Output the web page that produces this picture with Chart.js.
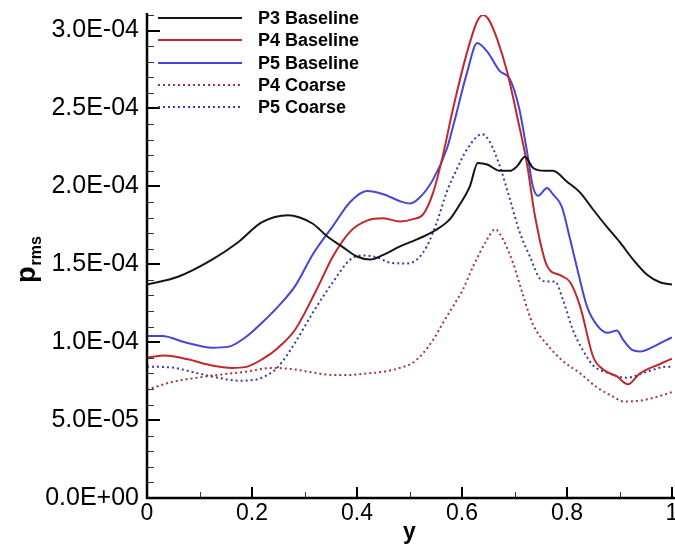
<!DOCTYPE html>
<html>
<head>
<meta charset="utf-8">
<script src="https://cdn.jsdelivr.net/npm/chart.js@4.4.1/dist/chart.umd.min.js"></script>
<style>
  html, body { margin: 0; padding: 0; background: #fff; }
  canvas { display: block; }
</style>
</head>
<body>
<canvas id="chart" width="675" height="546"></canvas>
<script>
// Wall-normal position y and RMS pressure p_rms for each run
const p3BaselineY = [0, 0.059, 0.124, 0.173, 0.219, 0.269, 0.291, 0.316, 0.343, 0.373, 0.400, 0.425, 0.450, 0.482, 0.514, 0.545, 0.577, 0.596, 0.615, 0.630, 0.648, 0.672, 0.691, 0.705, 0.720, 0.735, 0.758, 0.773, 0.800, 0.825, 0.850, 0.876, 0.901, 0.926, 0.952, 0.977, 1.0];
const p3BaselineP = [1.37e-4, 1.42e-4, 1.53e-4, 1.64e-4, 1.77e-4, 1.815e-4, 1.80e-4, 1.76e-4, 1.68e-4, 1.61e-4, 1.55e-4, 1.53e-4, 1.56e-4, 1.615e-4, 1.66e-4, 1.71e-4, 1.79e-4, 1.885e-4, 2.00e-4, 2.15e-4, 2.14e-4, 2.10e-4, 2.10e-4, 2.13e-4, 2.19e-4, 2.12e-4, 2.10e-4, 2.10e-4, 2.03e-4, 1.96e-4, 1.85e-4, 1.74e-4, 1.64e-4, 1.53e-4, 1.435e-4, 1.385e-4, 1.37e-4];

const p4BaselineY = [0, 0.034, 0.078, 0.124, 0.162, 0.187, 0.219, 0.250, 0.282, 0.322, 0.354, 0.387, 0.419, 0.450, 0.482, 0.507, 0.526, 0.545, 0.562, 0.583, 0.610, 0.629, 0.640, 0.650, 0.667, 0.686, 0.705, 0.724, 0.739, 0.762, 0.787, 0.806, 0.825, 0.850, 0.869, 0.895, 0.916, 0.939, 0.977, 1.0];
const p4BaselineP = [0.90e-4, 0.915e-4, 0.89e-4, 0.85e-4, 0.835e-4, 0.84e-4, 0.89e-4, 0.965e-4, 1.08e-4, 1.33e-4, 1.55e-4, 1.71e-4, 1.78e-4, 1.795e-4, 1.775e-4, 1.79e-4, 1.82e-4, 1.96e-4, 2.175e-4, 2.50e-4, 2.865e-4, 3.06e-4, 3.10e-4, 3.075e-4, 2.945e-4, 2.735e-4, 2.45e-4, 2.14e-4, 1.81e-4, 1.49e-4, 1.43e-4, 1.385e-4, 1.23e-4, 0.905e-4, 0.825e-4, 0.78e-4, 0.73e-4, 0.80e-4, 0.86e-4, 0.895e-4];

const p5BaselineY = [0, 0.029, 0.072, 0.124, 0.154, 0.187, 0.219, 0.250, 0.282, 0.316, 0.354, 0.387, 0.419, 0.450, 0.482, 0.501, 0.520, 0.545, 0.571, 0.583, 0.610, 0.629, 0.648, 0.672, 0.691, 0.709, 0.724, 0.735, 0.745, 0.762, 0.773, 0.790, 0.806, 0.821, 0.838, 0.857, 0.878, 0.895, 0.907, 0.924, 0.939, 0.964, 0.990, 1.0];
const p5BaselineP = [1.04e-4, 1.04e-4, 1.00e-4, 0.965e-4, 0.97e-4, 1.03e-4, 1.125e-4, 1.23e-4, 1.36e-4, 1.565e-4, 1.745e-4, 1.90e-4, 1.97e-4, 1.95e-4, 1.905e-4, 1.89e-4, 1.93e-4, 2.045e-4, 2.24e-4, 2.385e-4, 2.735e-4, 2.92e-4, 2.865e-4, 2.74e-4, 2.69e-4, 2.50e-4, 2.22e-4, 2.00e-4, 1.94e-4, 1.99e-4, 1.95e-4, 1.87e-4, 1.66e-4, 1.45e-4, 1.23e-4, 1.11e-4, 1.06e-4, 1.075e-4, 1.015e-4, 0.95e-4, 0.94e-4, 0.97e-4, 1.015e-4, 1.03e-4];

const p4CoarseY = [0, 0.048, 0.091, 0.135, 0.187, 0.238, 0.282, 0.316, 0.354, 0.387, 0.419, 0.450, 0.482, 0.507, 0.526, 0.545, 0.564, 0.583, 0.602, 0.621, 0.648, 0.663, 0.678, 0.697, 0.716, 0.735, 0.762, 0.792, 0.825, 0.857, 0.888, 0.907, 0.939, 0.977, 1.0];
const p4CoarseP = [0.695e-4, 0.745e-4, 0.77e-4, 0.79e-4, 0.81e-4, 0.835e-4, 0.825e-4, 0.805e-4, 0.79e-4, 0.79e-4, 0.80e-4, 0.81e-4, 0.835e-4, 0.87e-4, 0.93e-4, 1.015e-4, 1.125e-4, 1.23e-4, 1.34e-4, 1.485e-4, 1.66e-4, 1.725e-4, 1.66e-4, 1.51e-4, 1.305e-4, 1.115e-4, 0.985e-4, 0.88e-4, 0.80e-4, 0.71e-4, 0.65e-4, 0.62e-4, 0.625e-4, 0.655e-4, 0.68e-4];

const p5CoarseY = [0, 0.048, 0.091, 0.135, 0.173, 0.206, 0.230, 0.250, 0.282, 0.316, 0.354, 0.387, 0.411, 0.438, 0.463, 0.495, 0.514, 0.533, 0.552, 0.571, 0.590, 0.610, 0.638, 0.653, 0.672, 0.691, 0.710, 0.730, 0.749, 0.762, 0.777, 0.792, 0.811, 0.830, 0.850, 0.876, 0.914, 0.952, 0.990, 1.0];
const p5CoarseP = [0.843e-4, 0.837e-4, 0.805e-4, 0.772e-4, 0.753e-4, 0.759e-4, 0.79e-4, 0.843e-4, 0.997e-4, 1.19e-4, 1.385e-4, 1.53e-4, 1.557e-4, 1.545e-4, 1.51e-4, 1.505e-4, 1.53e-4, 1.615e-4, 1.77e-4, 1.965e-4, 2.11e-4, 2.24e-4, 2.335e-4, 2.285e-4, 2.13e-4, 1.92e-4, 1.705e-4, 1.545e-4, 1.405e-4, 1.39e-4, 1.39e-4, 1.275e-4, 1.08e-4, 0.95e-4, 0.85e-4, 0.805e-4, 0.772e-4, 0.81e-4, 0.843e-4, 0.843e-4];

const seriesLabels = ['P3 Baseline', 'P4 Baseline', 'P5 Baseline', 'P4 Coarse', 'P5 Coarse'];

const xTickValues = [0, 0.2, 0.4, 0.6, 0.8, 1];
const xTickLabels = ['0', '0.2', '0.4', '0.6', '0.8', '1'];
const yTickValues = [0, 5e-5, 1e-4, 1.5e-4, 2e-4, 2.5e-4, 3e-4];
const yTickLabels = ['0.0E+00', '5.0E-05', '1.0E-04', '1.5E-04', '2.0E-04', '2.5E-04', '3.0E-04'];

const FONT = '"Liberation Sans", Arial, Helvetica, sans-serif';

function pairs(xs, ys) {
  return xs.map((v, i) => ({ x: v, y: ys[i] }));
}

// Tick marks pointing into the plot, plus the left and bottom axis lines
const inwardTicks = {
  id: 'inwardTicks',
  afterDatasetsDraw(chart) {
    const { ctx, chartArea: a, scales: { x, y } } = chart;
    ctx.save();
    ctx.lineCap = 'butt';

    ctx.strokeStyle = '#333';
    ctx.lineWidth = 1;
    ctx.beginPath();
    for (let k = 1; k < 10; k += 2) {
      const px = Math.round(x.getPixelForValue(k / 10)) + 0.5;
      ctx.moveTo(px, a.bottom);
      ctx.lineTo(px, a.bottom - 6);
    }
    for (let k = 1; k <= 31; k++) {
      if (k % 5 === 0) continue;
      const py = Math.round(y.getPixelForValue(k * 1e-5)) + 0.5;
      ctx.moveTo(a.left, py);
      ctx.lineTo(a.left + 7, py);
    }
    ctx.stroke();

    ctx.strokeStyle = '#000';
    ctx.lineWidth = 2;
    ctx.beginPath();
    xTickValues.forEach(v => {
      const px = Math.round(x.getPixelForValue(v));
      ctx.moveTo(px, a.bottom);
      ctx.lineTo(px, a.bottom - 11);
    });
    yTickValues.forEach(v => {
      const py = Math.round(y.getPixelForValue(v));
      ctx.moveTo(a.left, py);
      ctx.lineTo(a.left + 13, py);
    });
    ctx.stroke();

    ctx.lineWidth = 2.5;
    ctx.beginPath();
    ctx.moveTo(a.left, a.top - 2);
    ctx.lineTo(a.left, a.bottom);
    ctx.lineTo(a.right + 4, a.bottom);
    ctx.stroke();
    ctx.restore();
  }
};

// Line-sample legend in the upper-left corner of the plot
const cornerLegend = {
  id: 'cornerLegend',
  afterDraw(chart) {
    const { ctx } = chart;
    const x0 = 158, x1 = 242, tx = 258, top = 18, step = 22.3;
    ctx.save();
    ctx.font = 'bold 18px ' + FONT;
    ctx.textBaseline = 'middle';
    ctx.fillStyle = '#000';
    chart.data.datasets.forEach((ds, i) => {
      const yy = Math.round(top + i * step);
      ctx.strokeStyle = ds.borderColor;
      ctx.lineWidth = ds.borderWidth;
      ctx.setLineDash(ds.borderDash || []);
      ctx.beginPath();
      ctx.moveTo(x0, yy);
      ctx.lineTo(x1, yy);
      ctx.stroke();
      ctx.setLineDash([]);
      ctx.fillText(ds.label, tx, yy + 1);
    });
    ctx.restore();
  }
};

// Rotated y-axis title with subscript: p_rms
const yTitle = {
  id: 'yTitle',
  afterDraw(chart) {
    const { ctx } = chart;
    ctx.save();
    ctx.translate(35, 283);
    ctx.rotate(-Math.PI / 2);
    ctx.fillStyle = '#000';
    ctx.textBaseline = 'alphabetic';
    ctx.font = 'bold 27px ' + FONT;
    const wMain = ctx.measureText('p').width;
    ctx.fillText('p', 0, 0);
    ctx.font = 'bold 16px ' + FONT;
    ctx.fillText('rms', wMain + 1, 6);
    ctx.restore();
  }
};

const common = { pointRadius: 0, fill: false, cubicInterpolationMode: 'monotone' };

new Chart(document.getElementById('chart'), {
  type: 'line',
  data: {
    datasets: [
      { ...common, label: seriesLabels[0], data: pairs(p3BaselineY, p3BaselineP), borderColor: '#141414', borderWidth: 2 },
      { ...common, label: seriesLabels[1], data: pairs(p4BaselineY, p4BaselineP), borderColor: '#c1272d', borderWidth: 2 },
      { ...common, label: seriesLabels[2], data: pairs(p5BaselineY, p5BaselineP), borderColor: '#4646d6', borderWidth: 2 },
      { ...common, label: seriesLabels[3], data: pairs(p4CoarseY, p4CoarseP), borderColor: '#ad3434', borderWidth: 2, borderDash: [2, 3] },
      { ...common, label: seriesLabels[4], data: pairs(p5CoarseY, p5CoarseP), borderColor: '#3a3aa0', borderWidth: 2, borderDash: [2, 3] }
    ]
  },
  options: {
    responsive: false,
    animation: false,
    devicePixelRatio: 1,
    layout: { padding: { left: 0, right: 3, top: 15, bottom: 0 } },
    plugins: { legend: { display: false }, tooltip: { enabled: false } },
    scales: {
      x: {
        type: 'linear',
        min: 0,
        max: 1,
        grid: { display: false, drawTicks: false },
        border: { display: false },
        afterBuildTicks: s => { s.ticks = xTickValues.map(v => ({ value: v })); },
        afterFit: s => { s.height = 48; s.paddingLeft = 0; s.paddingRight = 0; },
        ticks: {
          autoSkip: false,
          maxRotation: 0,
          padding: 2,
          color: '#000',
          font: { family: FONT, size: 23 },
          callback: (v, i) => xTickLabels[i]
        },
        title: {
          display: true,
          text: 'y',
          color: '#000',
          padding: 0,
          font: { family: FONT, size: 23, weight: 'bold' }
        }
      },
      y: {
        type: 'linear',
        min: 0,
        max: 3.1e-4,
        grid: { display: false, drawTicks: false },
        border: { display: false },
        afterBuildTicks: s => { s.ticks = yTickValues.map(v => ({ value: v })); },
        afterFit: s => { s.width = 147; s.paddingTop = 0; s.paddingBottom = 0; },
        ticks: {
          autoSkip: false,
          padding: 8,
          color: '#000',
          font: { family: FONT, size: 25 },
          callback: (v, i) => yTickLabels[i]
        }
      }
    }
  },
  plugins: [inwardTicks, cornerLegend, yTitle]
});
</script>
</body>
</html>
